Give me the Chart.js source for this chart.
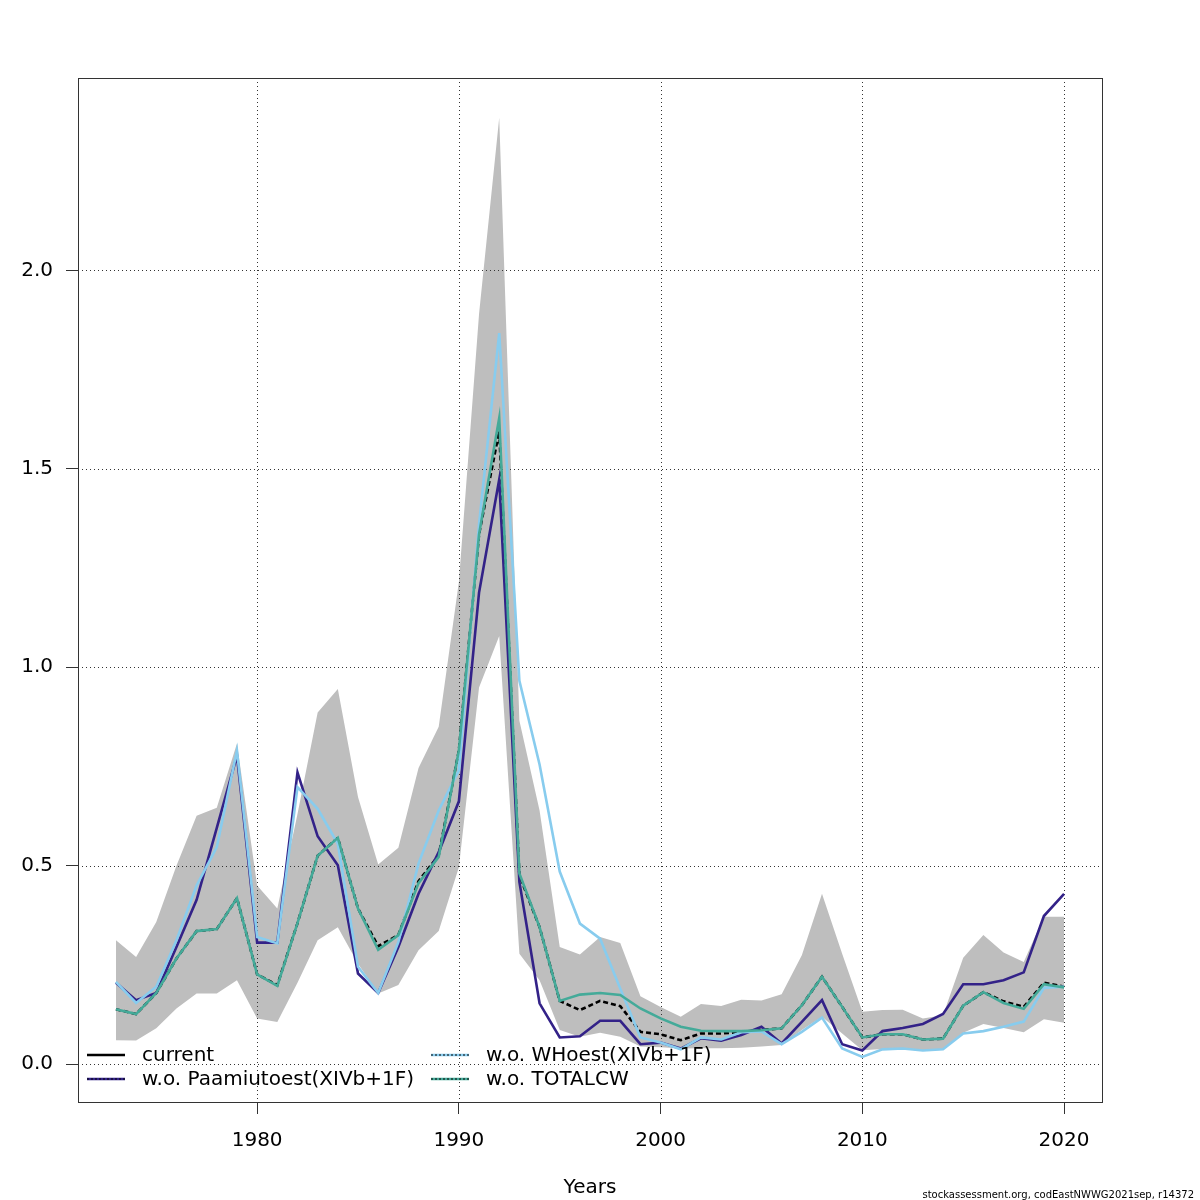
<!DOCTYPE html>
<html>
<head>
<meta charset="utf-8">
<script src="https://cdn.jsdelivr.net/npm/chart.js@4.4.1/dist/chart.umd.min.js"></script>
<style>
  html, body { margin: 0; padding: 0; background: #fff; }
  canvas { display: block; }
</style>
</head>
<body>
<canvas id="fbar-chart" width="1200" height="1200"></canvas>
<script>
// years of the assessment
const years = [
  1973, 1974, 1975, 1976, 1977, 1978, 1979, 1980, 1981, 1982,
  1983, 1984, 1985, 1986, 1987, 1988, 1989, 1990, 1991, 1992,
  1993, 1994, 1995, 1996, 1997, 1998, 1999, 2000, 2001, 2002,
  2003, 2004, 2005, 2006, 2007, 2008, 2009, 2010, 2011, 2012,
  2013, 2014, 2015, 2016, 2017, 2018, 2019, 2020,
];

// current run
const current = [
  0.138, 0.126, 0.179, 0.266, 0.335, 0.340, 0.418, 0.226, 0.199, 0.355,
  0.525, 0.570, 0.392, 0.297, 0.325, 0.461, 0.526, 0.790, 1.335, 1.595,
  0.475, 0.345, 0.159, 0.136, 0.159, 0.146, 0.081, 0.075, 0.060, 0.077,
  0.077, 0.081, 0.086, 0.090, 0.148, 0.220, 0.144, 0.067, 0.075, 0.075,
  0.062, 0.064, 0.147, 0.181, 0.158, 0.144, 0.205, 0.195,
];

// confidence band of the current run
const ciLow = [
  0.060, 0.059, 0.090, 0.140, 0.178, 0.178, 0.211, 0.115, 0.106, 0.205,
  0.312, 0.345, 0.253, 0.178, 0.199, 0.287, 0.335, 0.496, 0.949, 1.079,
  0.278, 0.211, 0.086, 0.069, 0.079, 0.069, 0.044, 0.042, 0.039, 0.040,
  0.040, 0.041, 0.044, 0.048, 0.086, 0.119, 0.077, 0.035, 0.038, 0.038,
  0.035, 0.037, 0.079, 0.101, 0.091, 0.080, 0.113, 0.104,
];
const ciHigh = [
  0.312, 0.270, 0.358, 0.500, 0.626, 0.646, 0.808, 0.450, 0.392, 0.630,
  0.886, 0.945, 0.673, 0.503, 0.545, 0.746, 0.850, 1.215, 1.890, 2.385,
  0.865, 0.639, 0.295, 0.276, 0.320, 0.305, 0.171, 0.144, 0.119, 0.151,
  0.146, 0.162, 0.160, 0.176, 0.274, 0.429, 0.278, 0.132, 0.136, 0.137,
  0.115, 0.123, 0.268, 0.325, 0.281, 0.257, 0.371, 0.371,
];

// leave-one-out runs
const woPaamiut = [
  0.205, 0.161, 0.179, 0.295, 0.414, 0.595, 0.777, 0.306, 0.306, 0.735,
  0.574, 0.501, 0.228, 0.179, 0.295, 0.429, 0.534, 0.662, 1.188, 1.473,
  0.459, 0.153, 0.067, 0.070, 0.109, 0.109, 0.050, 0.054, 0.039, 0.065,
  0.059, 0.073, 0.094, 0.052, 0.106, 0.161, 0.050, 0.034, 0.083, 0.091,
  0.101, 0.126, 0.201, 0.201, 0.211, 0.231, 0.373, 0.429,
];
const woWHoest = [
  0.207, 0.154, 0.195, 0.312, 0.450, 0.547, 0.790, 0.320, 0.304, 0.698,
  0.643, 0.555, 0.245, 0.179, 0.307, 0.505, 0.639, 0.740, 1.360, 1.842,
  0.966, 0.755, 0.485, 0.354, 0.316, 0.190, 0.067, 0.054, 0.037, 0.067,
  0.062, 0.080, 0.082, 0.050, 0.081, 0.117, 0.039, 0.018, 0.037, 0.039,
  0.034, 0.037, 0.077, 0.083, 0.094, 0.107, 0.192, 0.195,
];
const woTotalCW = [
  0.138, 0.126, 0.179, 0.266, 0.335, 0.340, 0.418, 0.226, 0.197, 0.355,
  0.525, 0.570, 0.392, 0.288, 0.325, 0.456, 0.522, 0.790, 1.335, 1.628,
  0.480, 0.345, 0.159, 0.175, 0.179, 0.174, 0.140, 0.115, 0.094, 0.084,
  0.083, 0.083, 0.085, 0.090, 0.148, 0.220, 0.144, 0.067, 0.075, 0.075,
  0.062, 0.064, 0.147, 0.181, 0.154, 0.139, 0.201, 0.193,
];

const seriesNames = [
  "current",
  "w.o. Paamiutoest(XIVb+1F)",
  "w.o. WHoest(XIVb+1F)",
  "w.o. TOTALCW",
];

// tick positions
const xTicks = [1980, 1990, 2000, 2010, 2020];
const yTicks = [0, 0.5, 1.0, 1.5, 2.0];

const black = "#000000";
const indigo = "#332288";
const skyblue = "#88CCEE";
const teal = "#44AA99";

Chart.defaults.font.family = "'DejaVu Sans', sans-serif";
Chart.defaults.font.size = 20;
Chart.defaults.color = "#000";

const toPoints = (values) => years.map((yr, i) => ({ x: yr, y: values[i] }));

const lineStyle = (color) => ({
  borderColor: color,
  backgroundColor: color,
  borderWidth: 2.6,
  pointRadius: 0,
  tension: 0,
  fill: false,
});

// dotted grid drawn on top of the band, frame, legend and footer
const decorations = {
  id: "decorations",
  afterDatasetDraw(chart, args) {
    if (args.index !== 1) return;
    const { ctx, chartArea: a, scales } = chart;
    ctx.save();
    ctx.strokeStyle = "#333";
    ctx.lineWidth = 1;
    ctx.setLineDash([1, 3]);
    xTicks.forEach((v) => {
      const px = Math.round(scales.x.getPixelForValue(v)) + 0.5;
      ctx.beginPath();
      ctx.moveTo(px, a.top);
      ctx.lineTo(px, a.bottom);
      ctx.stroke();
    });
    yTicks.forEach((v) => {
      const py = Math.round(scales.y.getPixelForValue(v)) + 0.5;
      ctx.beginPath();
      ctx.moveTo(a.left, py);
      ctx.lineTo(a.right, py);
      ctx.stroke();
    });
    ctx.restore();
  },
  afterDraw(chart) {
    const { ctx, chartArea: a } = chart;
    ctx.save();
    ctx.strokeStyle = "#333";
    ctx.lineWidth = 1;
    ctx.setLineDash([]);
    ctx.strokeRect(a.left + 0.5, a.top + 0.5, a.right - a.left, a.bottom - a.top);

    // legend, two columns, inside the plot
    const items = [
      { name: seriesNames[0], color: black, x: 87, y: 1055, overlay: false },
      { name: seriesNames[1], color: indigo, x: 87, y: 1079, overlay: true },
      { name: seriesNames[2], color: skyblue, x: 431, y: 1055, overlay: true },
      { name: seriesNames[3], color: teal, x: 431, y: 1079, overlay: true },
    ];
    ctx.font = "20px 'DejaVu Sans', sans-serif";
    ctx.textBaseline = "middle";
    ctx.textAlign = "left";
    items.forEach((it) => {
      ctx.strokeStyle = it.color;
      ctx.lineWidth = 2.6;
      ctx.setLineDash([]);
      ctx.beginPath();
      ctx.moveTo(it.x, it.y);
      ctx.lineTo(it.x + 38, it.y);
      ctx.stroke();
      if (it.overlay) {
        ctx.strokeStyle = "#000";
        ctx.lineWidth = 1;
        ctx.setLineDash([2, 2]);
        ctx.beginPath();
        ctx.moveTo(it.x, it.y);
        ctx.lineTo(it.x + 38, it.y);
        ctx.stroke();
      }
      ctx.fillStyle = "#000";
      ctx.fillText(it.name, it.x + 55, it.y + 1);
    });

    ctx.font = "10px 'DejaVu Sans', sans-serif";
    ctx.textAlign = "right";
    ctx.textBaseline = "alphabetic";
    ctx.fillText("stockassessment.org, codEastNWWG2021sep, r14372", 1194, 1198);
    ctx.restore();
  },
};

new Chart(document.getElementById("fbar-chart"), {
  type: "line",
  data: {
    datasets: [
      {
        label: "lower",
        data: toPoints(ciLow),
        borderWidth: 0,
        borderColor: "rgba(0,0,0,0)",
        pointRadius: 0,
        fill: false,
        order: 6,
      },
      {
        label: "upper",
        data: toPoints(ciHigh),
        borderWidth: 0,
        borderColor: "rgba(0,0,0,0)",
        backgroundColor: "#bebebe",
        pointRadius: 0,
        fill: "-1",
        order: 5,
      },
      { label: seriesNames[0], data: toPoints(current), ...lineStyle(black), borderDash: [5, 3], order: 4 },
      { label: seriesNames[1], data: toPoints(woPaamiut), ...lineStyle(indigo), order: 3 },
      { label: seriesNames[2], data: toPoints(woWHoest), ...lineStyle(skyblue), order: 2 },
      { label: seriesNames[3], data: toPoints(woTotalCW), ...lineStyle(teal), order: 1 },
    ],
  },
  options: {
    responsive: false,
    devicePixelRatio: 1,
    animation: false,
    events: [],
    layout: { padding: { left: 0, right: 98, top: 78, bottom: 0 } },
    plugins: {
      legend: { display: false },
      tooltip: { enabled: false },
    },
    scales: {
      x: {
        type: "linear",
        min: 1971.12,
        max: 2021.88,
        afterBuildTicks: (scale) => {
          scale.ticks = xTicks.map((v) => ({ value: v }));
        },
        afterFit: (scale) => {
          scale.height = 98;
        },
        ticks: {
          callback: (value) => String(value),
          padding: 15,
          maxRotation: 0,
          autoSkip: false,
          color: "#000",
        },
        grid: {
          drawOnChartArea: false,
          drawTicks: true,
          tickLength: 12,
          tickColor: "#333",
          tickWidth: 1,
          tickBorderDash: [],
        },
        border: { display: false },
        title: {
          display: true,
          text: "Years",
          color: "#000",
          padding: { top: 0, bottom: 0 },
        },
      },
      y: {
        type: "linear",
        min: -0.0957,
        max: 2.485,
        afterBuildTicks: (scale) => {
          scale.ticks = yTicks.map((v) => ({ value: v }));
        },
        afterFit: (scale) => {
          scale.width = 78;
        },
        ticks: {
          callback: (value) => value.toFixed(1),
          padding: 13,
          autoSkip: false,
          color: "#000",
        },
        grid: {
          drawOnChartArea: false,
          drawTicks: true,
          tickLength: 12,
          tickColor: "#333",
          tickWidth: 1,
          tickBorderDash: [],
        },
        border: { display: false },
      },
    },
  },
  plugins: [decorations],
});
</script>
</body>
</html>
